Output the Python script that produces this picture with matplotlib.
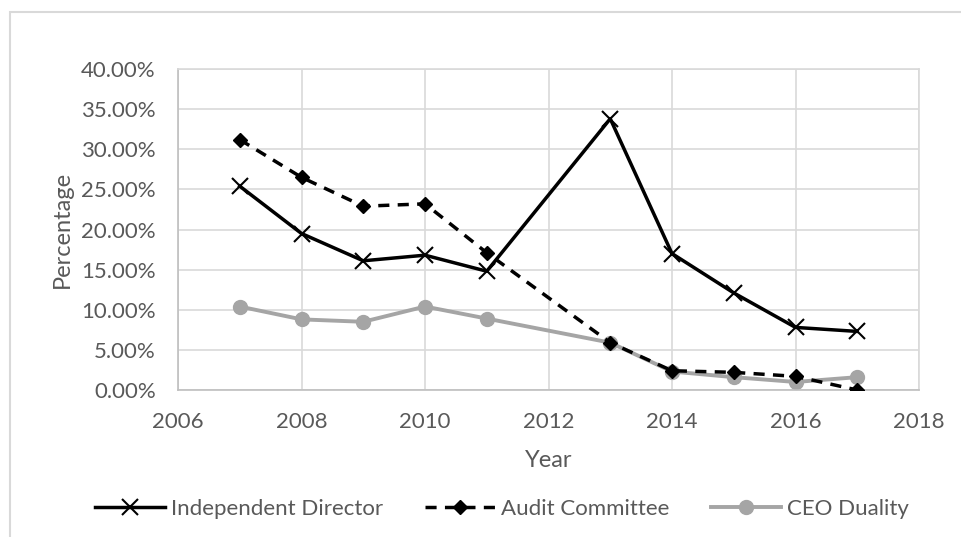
import matplotlib
matplotlib.use("Agg")
import matplotlib.pyplot as plt
from matplotlib.ticker import FuncFormatter, MultipleLocator
from matplotlib.patches import Rectangle

years = [2007, 2008, 2009, 2010, 2011, 2013, 2014, 2015, 2016, 2017]
independent_director = [25.4, 19.5, 16.1, 16.8, 14.8, 33.8, 17.0, 12.1, 7.8, 7.3]
audit_committee = [31.2, 26.5, 22.9, 23.2, 17.1, 5.9, 2.4, 2.2, 1.7, 0.0]
ceo_duality = [10.4, 8.8, 8.5, 10.4, 8.9, 5.9, 2.3, 1.6, 1.0, 1.6]
labels = ["Independent Director", "Audit Committee", "CEO Duality"]

plt.rcParams['font.family'] = ['Lato', 'DejaVu Sans']
txt = '#595959'
grid = '#d9d9d9'

fig = plt.figure(figsize=(9.61, 5.37), dpi=100)
fig.patches.append(Rectangle((10/961, -0.1), 2.0, (537-12)/537 + 0.1, transform=fig.transFigure,
                             fill=False, edgecolor='#d9d9d9', linewidth=1.5))
ax = fig.add_axes([178/961, (537-390)/537, 741/961, 321/537])

ax.plot(years, independent_director, color='black', lw=2.5, marker='x', ms=11, mew=1.5,
        label=labels[0], zorder=3)
ax.plot(years, audit_committee, color='black', lw=2.5, ls=(0, (3.2, 2.4)), marker='D', ms=7,
        label=labels[1], zorder=3)
ax.plot(years, ceo_duality, color='#a5a5a5', lw=2.8, marker='o', ms=10,
        label=labels[2], zorder=2)

ax.set_xlim(2006, 2018)
ax.set_ylim(0, 40)
ax.xaxis.set_major_locator(MultipleLocator(2))
ax.yaxis.set_major_locator(MultipleLocator(5))
ax.yaxis.set_major_formatter(FuncFormatter(lambda v, p: f"{v:.2f}%"))
ax.grid(True, color=grid, lw=1.2)
ax.set_axisbelow(True)
for s in ['top', 'right']:
    ax.spines[s].set_color(grid)
    ax.spines[s].set_linewidth(1.2)
for s in ['left', 'bottom']:
    ax.spines[s].set_color('#bfbfbf')
    ax.spines[s].set_linewidth(1.2)
ax.tick_params(length=0, labelsize=16, labelcolor=txt)
ax.tick_params(axis='y', pad=16)
ax.tick_params(axis='x', pad=16)
ax.set_xlabel("Year", fontsize=17, color=txt, labelpad=13)
ax.set_ylabel("Percentage", fontsize=17, color=txt, labelpad=6)

handles, lbls = ax.get_legend_handles_labels()
leg = fig.legend(handles, lbls, loc='center', bbox_to_anchor=(502/961, (537-509)/537), ncol=3,
                 frameon=False, fontsize=16, handlelength=3.15, columnspacing=1.85,
                 handletextpad=0.3, labelcolor=txt)
fig.savefig("out.png", dpi=100)
